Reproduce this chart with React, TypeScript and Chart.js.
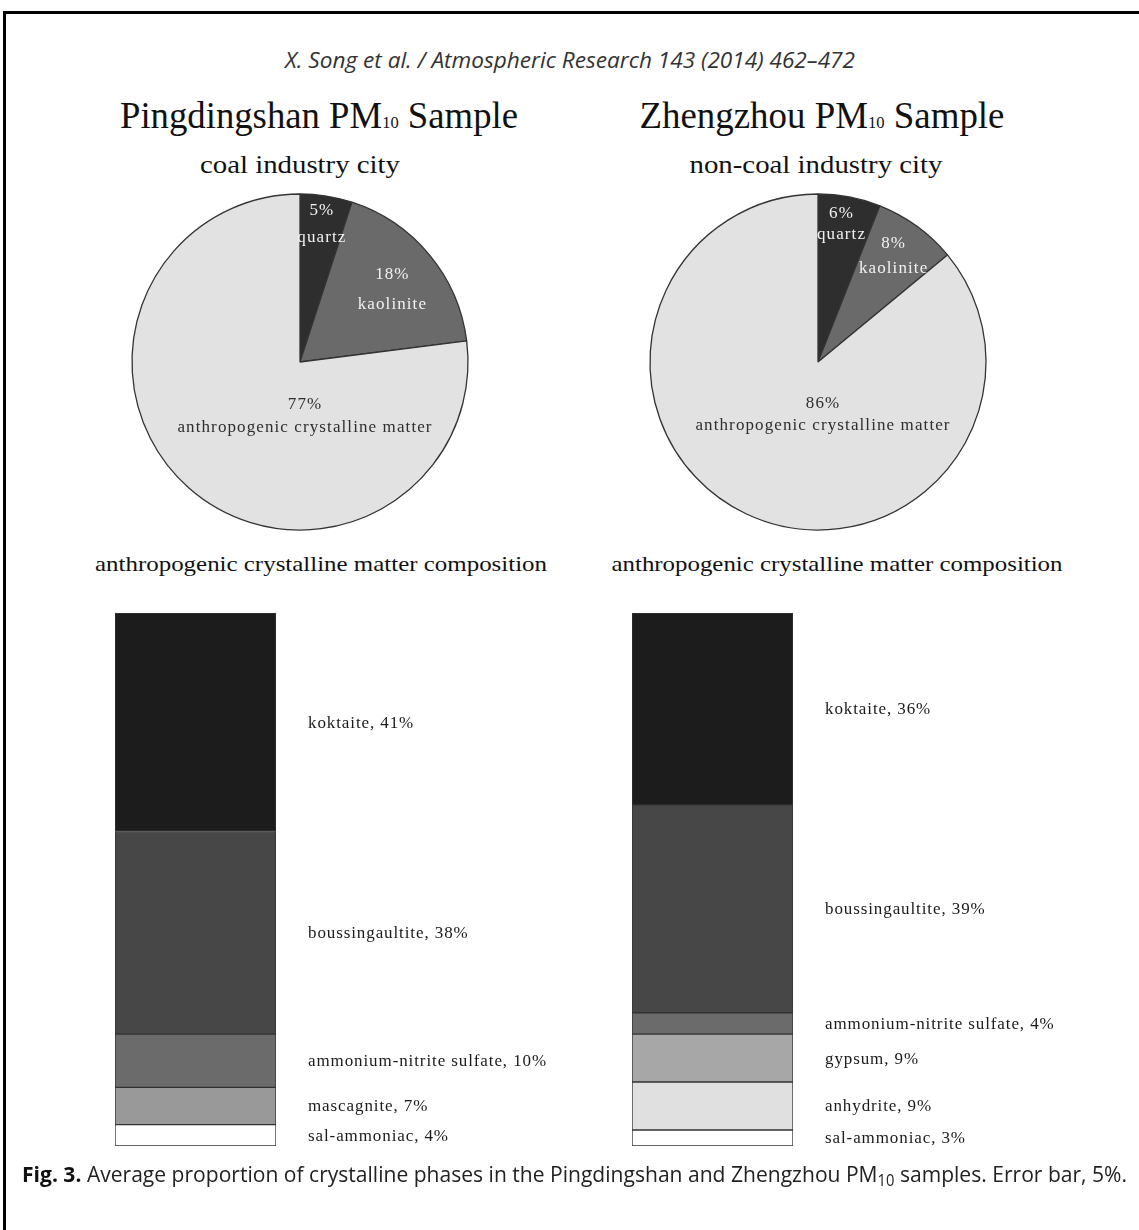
import React, { useEffect, useLayoutEffect, useRef } from "react";
import { Chart, registerables } from "chart.js";

Chart.register(...registerables);

// ---------- data ----------
const pieCategories = ["quartz", "kaolinite", "anthropogenic crystalline matter"];
const pingdingshanPie = [5, 18, 77];
const zhengzhouPie = [6, 8, 86];

const pingdingshanPhases = ["koktaite", "boussingaultite", "ammonium-nitrite sulfate", "mascagnite", "sal-ammoniac"];
const pingdingshanShares = [41, 38, 10, 7, 4];

const zhengzhouPhases = ["koktaite", "boussingaultite", "ammonium-nitrite sulfate", "gypsum", "anhydrite", "sal-ammoniac"];
const zhengzhouShares = [36, 39, 4, 9, 9, 3];

// ---------- styles ----------
const pieColors = ["#2e2e2e", "#6a6a6a", "#e2e2e2"];
const pieTextColors = ["#f2f2f2", "#f2f2f2", "#2e2e2e"];
// label block centre relative to pie centre (fraction of radius) and line gap (px)
const pingdingshanLabelPos: [number, number, number][] = [
  [0.13, -0.82, 27],
  [0.55, -0.43, 30],
  [0.03, 0.32, 23],
];
const zhengzhouLabelPos: [number, number, number][] = [
  [0.14, -0.82, 21],
  [0.45, -0.63, 25],
  [0.03, 0.31, 22],
];

const phaseColors: Record<string, string> = {
  koktaite: "#1c1c1c",
  boussingaultite: "#474747",
  "ammonium-nitrite sulfate": "#6b6b6b",
  mascagnite: "#999999",
  gypsum: "#a7a7a7",
  anhydrite: "#e0e0e0",
  "sal-ammoniac": "#ffffff",
};

const SERIF = '"Liberation Serif", "DejaVu Serif", serif';
const SANS = '"Liberation Sans Narrow", "Open Sans", "Liberation Sans", sans-serif';

// ---------- plugins ----------
const pieLabelPlugin = {
  id: "pieLabels",
  afterDatasetsDraw(chart: any, _args: any, opts: any) {
    const ctx = chart.ctx;
    const meta = chart.getDatasetMeta(0);
    const ds = chart.data.datasets[0];
    meta.data.forEach((arc: any, i: number) => {
      const { x, y, outerRadius } = arc.getProps(["x", "y", "outerRadius"], true);
      const [fx, fy, gap] = opts.positions[i];
      const cx = x + fx * outerRadius;
      const cy = y + fy * outerRadius;
      ctx.save();
      ctx.font = opts.font;
      ctx.fillStyle = opts.colors[i];
      ctx.textAlign = "center";
      ctx.textBaseline = "middle";
      (ctx as any).letterSpacing = opts.letterSpacing;
      ctx.fillText(`${ds.data[i]}%`, cx, cy - gap / 2);
      ctx.fillText(String(chart.data.labels[i]), cx, cy + gap / 2);
      ctx.restore();
    });
  },
};

const barLabelPlugin = {
  id: "barLabels",
  afterDatasetsDraw(chart: any, _args: any, opts: any) {
    const ctx = chart.ctx;
    chart.data.datasets.forEach((ds: any, di: number) => {
      const meta = chart.getDatasetMeta(di);
      const el = meta.data[0];
      if (!el) return;
      const { x, y, base, width } = el.getProps(["x", "y", "base", "width"], true);
      ctx.save();
      ctx.font = opts.font;
      ctx.fillStyle = opts.color;
      ctx.textAlign = "left";
      ctx.textBaseline = "middle";
      (ctx as any).letterSpacing = opts.letterSpacing;
      ctx.fillText(`${ds.label}, ${ds.data[0]}%`, x + width / 2 + opts.offset, (y + base) / 2 + 1);
      ctx.restore();
    });
  },
};

// ---------- components ----------
function PieChart(props: { values: number[]; positions: [number, number, number][]; left: number; top: number }) {
  const ref = useRef<HTMLCanvasElement>(null);
  useEffect(() => {
    if (!ref.current) return;
    const chart = new Chart(ref.current, {
      type: "pie",
      data: {
        labels: pieCategories,
        datasets: [
          {
            data: props.values,
            backgroundColor: pieColors,
            borderColor: "#333333",
            borderWidth: 1.3,
          },
        ],
      },
      options: {
        animation: false,
        responsive: false,
        radius: 168,
        events: [],
        plugins: {
          legend: { display: false },
          tooltip: { enabled: false },
          pieLabels: {
            positions: props.positions,
            colors: pieTextColors,
            font: `17px ${SERIF}`,
            letterSpacing: "1.1px",
          },
        } as any,
      },
      plugins: [pieLabelPlugin],
    });
    return () => chart.destroy();
  }, []);
  return (
    <canvas
      ref={ref}
      width={360}
      height={360}
      style={{ position: "absolute", left: props.left, top: props.top, width: 360, height: 360 }}
    />
  );
}

function StackedBar(props: { phases: string[]; shares: number[]; left: number; top: number }) {
  const ref = useRef<HTMLCanvasElement>(null);
  const W = 480;
  const H = 560;
  useEffect(() => {
    if (!ref.current) return;
    const datasets = props.phases
      .map((p, i) => ({
        label: p,
        data: [props.shares[i]],
        backgroundColor: phaseColors[p],
        borderColor: "#333333",
        borderWidth: 1,
        borderSkipped: false as any,
        barPercentage: 1,
        categoryPercentage: 1,
      }))
      .reverse();
    const chart = new Chart(ref.current, {
      type: "bar",
      data: { labels: [""], datasets },
      options: {
        animation: false,
        responsive: false,
        events: [],
        layout: { padding: { left: 5, right: W - 5 - 161, top: 13, bottom: 14 } },
        scales: {
          x: { stacked: true, display: false },
          y: { stacked: true, display: false, min: 0, max: 100 },
        },
        plugins: {
          legend: { display: false },
          tooltip: { enabled: false },
          barLabels: {
            font: `17px ${SERIF}`,
            color: "#1a1a1a",
            letterSpacing: "0.9px",
            offset: 32,
          },
        } as any,
      },
      plugins: [barLabelPlugin],
    });
    return () => chart.destroy();
  }, []);
  return (
    <canvas
      ref={ref}
      width={W}
      height={H}
      style={{ position: "absolute", left: props.left, top: props.top, width: W, height: H }}
    />
  );
}

function FitText(props: {
  x: number;
  y: number;
  w: number;
  size: number;
  family: string;
  align?: "center" | "left";
  italic?: boolean;
  weight?: number;
  color?: string;
  children: React.ReactNode;
}) {
  const ref = useRef<HTMLSpanElement>(null);
  const align = props.align || "center";
  useLayoutEffect(() => {
    const el = ref.current;
    if (!el) return;
    el.style.transform = "none";
    const nat = el.getBoundingClientRect().width;
    const s = nat > 0 ? props.w / nat : 1;
    el.style.transform = align === "center" ? `translateX(-50%) scaleX(${s})` : `scaleX(${s})`;
  }, []);
  return (
    <span
      ref={ref}
      style={{
        position: "absolute",
        left: props.x,
        top: props.y - props.size * 0.5,
        fontSize: props.size,
        lineHeight: 1,
        fontFamily: props.family,
        fontStyle: props.italic ? "italic" : "normal",
        fontWeight: props.weight || 400,
        color: props.color || "#111",
        whiteSpace: "nowrap",
        transformOrigin: align === "center" ? "50% 50%" : "0 50%",
      }}
    >
      {props.children}
    </span>
  );
}

const sub: React.CSSProperties = { fontSize: "0.45em" };
const capSub: React.CSSProperties = { fontSize: "0.7em", verticalAlign: "-0.25em" };

export default function App() {
  return (
    <div
      style={{
        position: "absolute",
        left: 0,
        top: 0,
        width: 1139,
        height: 1230,
        overflow: "hidden",
        background: "#fff",
      }}
    >
      <div
        style={{
          position: "absolute",
          left: 3,
          top: 11,
          width: 1200,
          height: 1300,
          borderTop: "3px solid #000",
          borderLeft: "3px solid #000",
        }}
      />
      <FitText x={570} y={59} w={570} size={22} family={SANS} italic color="#333">
        X. Song et al. / Atmospheric Research 143 (2014) 462–472
      </FitText>

      <FitText x={319} y={115} w={398} size={38} family={SERIF}>
        Pingdingshan PM<span style={sub}>10</span> Sample
      </FitText>
      <FitText x={822} y={115} w={365} size={38} family={SERIF}>
        Zhengzhou PM<span style={sub}>10</span> Sample
      </FitText>

      <FitText x={300} y={165} w={200} size={26} family={SERIF}>
        coal industry city
      </FitText>
      <FitText x={816} y={165} w={253} size={26} family={SERIF}>
        non-coal industry city
      </FitText>

      <PieChart values={pingdingshanPie} positions={pingdingshanLabelPos} left={120} top={182} />
      <PieChart values={zhengzhouPie} positions={zhengzhouLabelPos} left={638} top={182} />

      <FitText x={321} y={564} w={452} size={22} family={SERIF}>
        anthropogenic crystalline matter composition
      </FitText>
      <FitText x={837} y={564} w={451} size={22} family={SERIF}>
        anthropogenic crystalline matter composition
      </FitText>

      <StackedBar phases={pingdingshanPhases} shares={pingdingshanShares} left={110} top={600} />
      <StackedBar phases={zhengzhouPhases} shares={zhengzhouShares} left={627} top={600} />

      <FitText x={22} y={1173} w={1105} size={22} family={SANS} align="left" color="#222">
        <b style={{ color: "#111" }}>Fig. 3.</b> Average proportion of crystalline phases in the Pingdingshan and
        Zhengzhou PM<span style={capSub}>10</span> samples. Error bar, 5%.
      </FitText>
    </div>
  );
}
